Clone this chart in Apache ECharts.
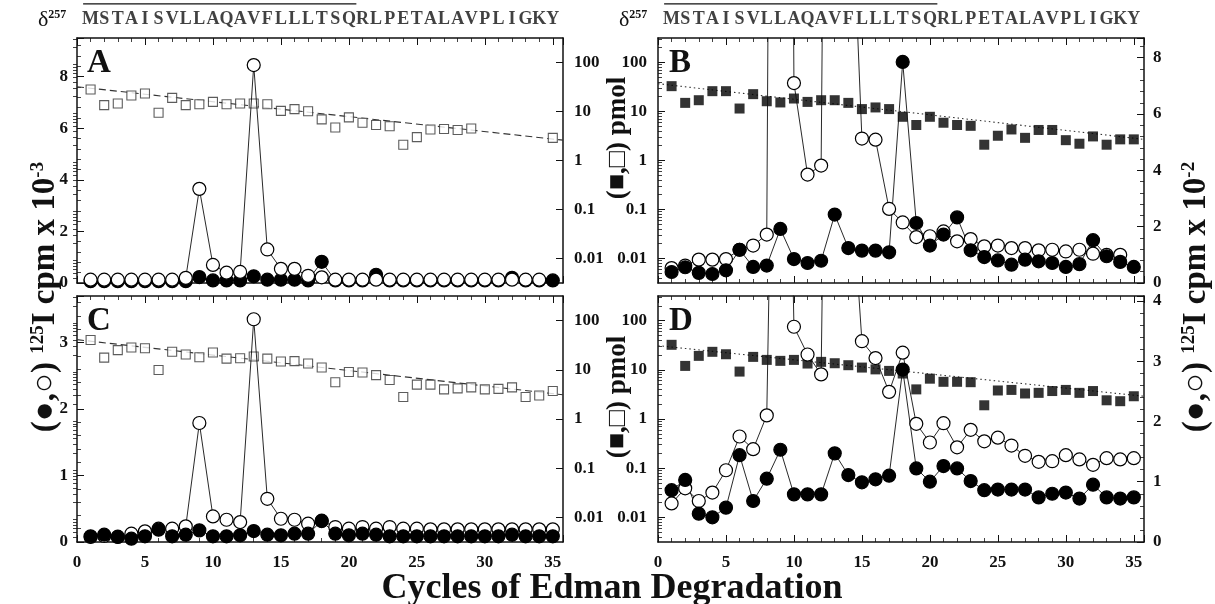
<!DOCTYPE html>
<html><head><meta charset="utf-8">
<script src="https://cdn.jsdelivr.net/npm/echarts@6/dist/echarts.min.js"></script>
<style>html,body{margin:0;padding:0;background:#fff}#c{width:1215px;height:604px}</style>
</head><body><div id="c"></div>
<script>
// ---------- data ----------
const cycles = [1,2,3,4,5,6,7,8,9,10,11,12,13,14,15,16,17,18,19,20,21,22,23,24,25,26,27,28,29,30,31,32,33,34,35];
const sequence = ['M','S','T','A','I','S','V','L','L','A','Q','A','V','F','L','L','L','T','S','Q','R','L','P','E','T','A','L','A','V','P','L','I','G','K','Y'];
const overlineSpan = [0.45, 20.55];
const fitX = [0, 35.75];

// Panel A: 125I cpm x 10^-3 (circles), pmol (open squares)
const aOpen   = [0.13,0.13,0.13,0.13,0.13,0.13,0.13,0.2,3.65,0.7,0.4,0.43,8.45,1.3,0.55,0.55,0.28,0.22,0.13,0.13,0.13,0.13,0.13,0.13,0.13,0.13,0.13,0.13,0.13,0.13,0.13,0.13,0.13,0.13,null];
const aFilled = [0.07,0.07,0.07,0.07,0.07,0.07,0.07,0.07,0.23,0.1,0.1,0.1,0.26,0.13,0.13,0.13,0.1,0.82,0.1,0.1,0.1,0.32,0.1,0.1,0.1,0.1,0.1,0.1,0.1,0.1,0.1,0.2,0.1,0.1,0.1];
const aSquare = [28.1,13.5,14.6,21.2,23.3,9.4,19,13.5,14.1,15.7,14.1,14.6,14.6,14.1,10.3,11.2,10.1,6.9,4.7,7.6,5.9,5.3,5.0,2.1,3.0,4.3,4.4,4.2,4.5,null,null,null,null,null,2.9];
const aFit = [32, 2.6];

// Panel B: pmol (filled squares), 125I cpm x 10^-2 (circles)
const bSquare = [32.9,15.0,17.0,26.0,26.0,11.5,22.6,16.2,15.3,18.4,15.7,17.0,17.0,15.0,11.2,12.1,11.2,7.8,5.3,7.8,5.9,5.3,5.1,2.1,3.2,4.3,2.9,4.2,4.2,2.6,2.2,3.1,2.1,2.7,2.7];
const bOpen   = [0.53,0.62,0.83,0.83,0.85,1.18,1.33,1.72,85,7.1,3.85,4.17,62,17,5.13,5.09,2.63,2.15,1.63,1.66,1.83,1.48,1.56,1.30,1.33,1.24,1.24,1.16,1.18,1.12,1.18,1.04,1.0,1.0,null];
const bFilled = [0.39,0.56,0.36,0.32,0.45,1.18,0.57,0.62,1.92,0.85,0.71,0.79,2.43,1.24,1.15,1.15,1.09,7.85,2.13,1.33,1.72,2.33,1.16,0.92,0.80,0.65,0.83,0.77,0.71,0.57,0.67,1.52,0.95,0.75,0.57];
const bFit = [37, 2.7];

// Panel C: 125I cpm x 10^-3 (circles), pmol (open squares)
const cOpen   = [0.075,0.09,0.08,0.125,0.16,0.2,0.2,0.235,1.79,0.385,0.335,0.30,3.35,0.65,0.35,0.335,0.275,0.32,0.225,0.2,0.225,0.2,0.225,0.2,0.2,0.19,0.19,0.19,0.19,0.19,0.19,0.19,0.19,0.19,0.19];
const cFilled = [0.085,0.11,0.075,0.05,0.085,0.185,0.085,0.11,0.175,0.085,0.085,0.1,0.165,0.11,0.1,0.125,0.125,0.315,0.125,0.1,0.125,0.11,0.085,0.085,0.085,0.085,0.085,0.085,0.085,0.085,0.085,0.11,0.085,0.085,0.085];
const cSquare = [40.2,17.7,25.1,28.4,27.5,9.9,23.2,20.5,18.0,22.5,16.9,17.2,18.6,16.9,14.7,15.0,13.4,11.1,5.6,9.0,8.8,7.8,6.2,2.8,5.0,5.0,4.0,4.2,4.4,4.0,4.1,4.4,2.8,3.0,3.7];
const cFit = [41, 3.1];

// Panel D: pmol (filled squares), 125I cpm x 10^-2 (circles)
const dSquare = [32.2,12.0,19.2,23.2,20.7,9.2,18.3,15.9,15.2,15.9,13.4,14.5,13.6,12.4,11.1,10.2,9.5,8.4,4.0,6.6,5.7,5.7,5.6,1.9,3.8,3.9,3.3,3.4,3.7,3.9,3.4,3.7,2.4,2.3,2.9];
const dOpen   = [0.64,0.89,0.68,0.82,1.19,1.75,1.54,2.10,15,3.57,3.11,2.78,20,6.7,3.33,3.05,2.49,3.14,1.96,1.65,1.97,1.57,1.86,1.67,1.73,1.60,1.43,1.33,1.34,1.44,1.37,1.28,1.39,1.37,1.39];
const dFilled = [0.86,1.03,0.47,0.41,0.57,1.44,0.68,1.05,1.53,0.79,0.79,0.79,1.47,1.11,0.99,1.04,1.10,2.86,1.22,1.00,1.26,1.22,1.01,0.86,0.87,0.87,0.87,0.74,0.80,0.82,0.72,0.95,0.74,0.72,0.74];
const dFit = [31, 2.9];

// axis ranges
const xRange = [0, 35.75];
const logRange = [0.0031623, 316.23];
const aRange = [0, 9.5], bRange = [0, 8.7], cRange = [0, 3.7], dRange = [0, 4.08];

// ---------- layout ----------
const SERIF = '"Liberation Serif","DejaVu Serif",serif';
const INK = '#111';
const L1 = 77, L2 = 658, W = 486;
const T1 = 38, H1 = 245, T2 = 296, H2 = 246;

const grids = [
  {left:L1, top:T1, width:W, height:H1},
  {left:L2, top:T1, width:W, height:H1},
  {left:L1, top:T2, width:W, height:H2},
  {left:L2, top:T2, width:W, height:H2},
  {left:L1, top:0, width:W, height:38},
  {left:L2, top:0, width:W, height:38}
];

// log minor tick positions (2..9 x each decade inside the range)
const logMinor = [];
for (let e = -3; e <= 2; e++) for (let m = 2; m <= 9; m++) {
  const v = m * Math.pow(10, e);
  if (v > logRange[0] && v < logRange[1]) logMinor.push(+v.toPrecision(3));
}

const lblFont = {fontFamily:SERIF, fontWeight:'bold', fontSize:17, color:INK};
const axLine = {show:true, onZero:false, lineStyle:{color:INK, width:1.5}};

function xAx(g, pos, labels){
  return {type:'value', gridIndex:g, position:pos, min:xRange[0], max:xRange[1], interval:5,
    axisLine:axLine, splitLine:{show:false},
    axisTick:{show:true, inside:true, length:7, lineStyle:{color:INK, width:1}},
    minorTick:{show:true, splitNumber:5, length:4, lineStyle:{color:INK, width:0.8}},
    axisLabel:{show:labels, margin:12, showMaxLabel:false, ...lblFont}};
}
function linAx(g, pos, range, interval, labels){
  return {type:'value', gridIndex:g, position:pos, min:range[0], max:range[1], interval:interval,
    axisLine:axLine, splitLine:{show:false},
    axisTick:{show:true, inside:true, length:7, lineStyle:{color:INK, width:1}},
    minorTick:{show:true, splitNumber:5, length:4, lineStyle:{color:INK, width:0.8}},
    axisLabel:{show:labels, margin:9, showMaxLabel:false, ...lblFont}};
}
function logAx(g, pos){
  return {type:'log', logBase:10, gridIndex:g, position:pos, min:logRange[0], max:logRange[1],
    axisLine:axLine, splitLine:{show:false},
    axisTick:{show:true, inside:true, length:7, lineStyle:{color:INK, width:1}},
    minorTick:{show:false},
    axisLabel:{show:true, margin:11, showMinLabel:false, showMaxLabel:false, ...lblFont,
      formatter: v => String(+Number(v).toPrecision(3))}};
}
function logMinorAx(g, pos){
  return {type:'log', logBase:10, gridIndex:g, position:pos, min:logRange[0], max:logRange[1],
    axisLine:{show:false}, splitLine:{show:false}, axisLabel:{show:false},
    axisTick:{show:true, inside:true, length:4, customValues:logMinor, lineStyle:{color:INK, width:0.8}}};
}
const xAxes = [
  xAx(0,'bottom',false), xAx(1,'bottom',false), xAx(2,'bottom',true), xAx(3,'bottom',true),
  xAx(0,'top',false), xAx(1,'top',false), xAx(2,'top',false), xAx(3,'top',false),
  {type:'value', gridIndex:4, min:xRange[0], max:xRange[1], show:false},
  {type:'value', gridIndex:5, min:xRange[0], max:xRange[1], show:false}
];
const yAxes = [
  linAx(0,'left',aRange,2,true),  logAx(0,'right'),
  logAx(1,'left'),                linAx(1,'right',bRange,2,true),
  linAx(2,'left',cRange,1,true),  logAx(2,'right'),
  logAx(3,'left'),                linAx(3,'right',dRange,1,true),
  {type:'value', gridIndex:4, min:0, max:1, show:false},
  {type:'value', gridIndex:5, min:0, max:1, show:false},
  logMinorAx(0,'right'), logMinorAx(1,'left'), logMinorAx(2,'right'), logMinorAx(3,'left')
];

const pair = arr => cycles.map((c,i) => [c, arr[i] == null ? null : arr[i]]);
function circles(arr, xi, yi, filled){
  return {type:'line', xAxisIndex:xi, yAxisIndex:yi, data:pair(arr), symbol:'circle', symbolSize:13,
    showAllSymbol:true, connectNulls:false, clip:true,
    lineStyle:{color:INK, width:0.9},
    itemStyle:{color: filled ? '#000' : '#fff', borderColor:'#000', borderWidth:1.2}};
}
function squares(arr, xi, yi, filled){
  return {type:'scatter', xAxisIndex:xi, yAxisIndex:yi, data:pair(arr).filter(p=>p[1]!=null),
    symbol:'rect', symbolSize: filled ? 10 : 9,
    itemStyle: filled ? {color:'#000'} : {color:'#fff', borderColor:'#333', borderWidth:1.1}};
}
function fit(vals, xi, yi, dash){
  return {type:'line', xAxisIndex:xi, yAxisIndex:yi, data:fitX.map((x,i)=>[x, vals[i]]),
    symbol:'none', lineStyle:{color:'#333', width:1.1, type:dash}, z:1};
}
function seqSeries(xi, yi){
  return [
    {type:'scatter', xAxisIndex:xi, yAxisIndex:yi, symbolSize:1, itemStyle:{color:'rgba(0,0,0,0)'},
      data: cycles.map((c,i)=>({value:[c,0.5], label:{formatter:sequence[i]}})),
      label:{show:true, position:'inside', fontFamily:SERIF, fontWeight:'bold', fontSize:18, color:INK}},
    {type:'line', xAxisIndex:xi, yAxisIndex:yi, data:overlineSpan.map(x=>[x,0.9]), symbol:'none',
      lineStyle:{color:INK, width:1.3}}
  ];
}

const series = [
  // A
  fit(aFit,0,1,[7,4]), squares(aSquare,0,1,false), circles(aFilled,0,0,true), circles(aOpen,0,0,false),
  // B
  fit(bFit,1,2,[1.5,3]), squares(bSquare,1,2,true), circles(bOpen,1,3,false), circles(bFilled,1,3,true),
  // C
  fit(cFit,2,5,[7,4]), squares(cSquare,2,5,false), circles(cOpen,2,4,false), circles(cFilled,2,4,true),
  // D
  fit(dFit,3,6,[1.5,3]), squares(dSquare,3,6,true), circles(dOpen,3,7,false), circles(dFilled,3,7,true),
  ...seqSeries(8,8), ...seqSeries(9,9)
];

const yTitleRich = {
  a:{fontFamily:SERIF, fontWeight:'bold', fontSize:33, fill:INK, verticalAlign:'bottom'},
  s:{fontFamily:SERIF, fontWeight:'bold', fontSize:19, fill:INK, verticalAlign:'top'}
};
function panelLetter(t, x, y){
  return {type:'text', x:x, y:y, style:{text:t, fontFamily:SERIF, fontWeight:'bold', fontSize:33, fill:INK, align:'left', verticalAlign:'middle'}};
}
function pmolLabel(y){
  return {type:'text', x:618, y:y, rotation:Math.PI/2,
    style:{text:'(■,□) pmol', fontFamily:SERIF, fontWeight:'bold', fontSize:27, fill:INK, align:'center', verticalAlign:'middle'}};
}
function deltaLabel(x){
  return {type:'text', x:x, y:20, style:{text:'{d|δ}{s|257}', align:'left', verticalAlign:'middle',
    rich:{d:{fontFamily:SERIF, fontSize:22, fill:INK, verticalAlign:'bottom'}, s:{fontFamily:SERIF, fontWeight:'bold', fontSize:12, fill:INK, verticalAlign:'top'}}}};
}
const graphic = [
  panelLetter('A', 87, 63), panelLetter('B', 669, 63), panelLetter('C', 87, 321), panelLetter('D', 669, 321),
  pmolLabel(138), pmolLabel(397),
  deltaLabel(38), deltaLabel(619),
  {type:'text', x:45, y:297, rotation:Math.PI/2,
    style:{text:'{a|(●,○) }{s|125}{a|I cpm x 10}{s|-3}', align:'center', verticalAlign:'middle', rich:yTitleRich}},
  {type:'text', x:1196, y:297, rotation:Math.PI/2,
    style:{text:'{a|(●,○) }{s|125}{a|I cpm x 10}{s|-2}', align:'center', verticalAlign:'middle', rich:yTitleRich}},
  {type:'text', x:612, y:589, style:{text:'Cycles of Edman Degradation', fontFamily:SERIF, fontWeight:'bold', fontSize:36, fill:INK, align:'center', verticalAlign:'middle'}}
];

const chart = echarts.init(document.getElementById('c'), null, {renderer:'canvas'});
chart.setOption({
  animation:false, backgroundColor:'#fff',
  grid:grids, xAxis:xAxes, yAxis:yAxes, series:series, graphic:graphic
});
</script>
</body></html>
